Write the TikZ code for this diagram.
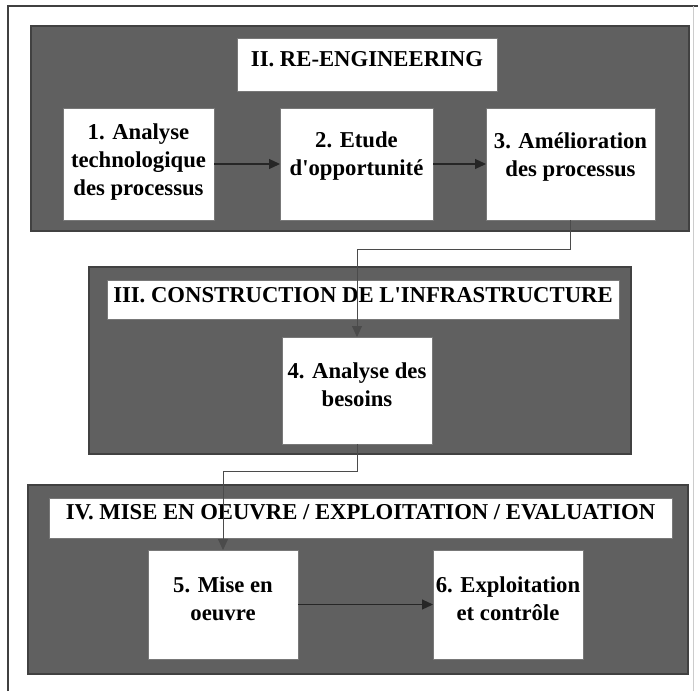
\documentclass[tikz,border=0pt]{standalone}
\usepackage{fontspec}
\setmainfont{Liberation Serif}
\usetikzlibrary{arrows.meta}
\definecolor{panelgray}{RGB}{96,96,96}
\definecolor{paneledge}{RGB}{65,65,65}
\definecolor{boxedge}{RGB}{120,120,120}
\definecolor{lineclr}{RGB}{75,75,75}
\begin{document}
\begin{tikzpicture}[x=1pt,y=-1pt,
  every node/.style={font=\fontsize{22.7}{28}\selectfont\bfseries},
  panel/.style={draw=paneledge, line width=1.2pt, fill=panelgray, inner sep=0pt, outer sep=0pt},
  stepbox/.style={draw=boxedge, line width=0.6pt, fill=white, inner sep=0pt, outer sep=0pt},
  titlebox/.style={draw=boxedge, line width=0.6pt, fill=white, inner sep=0pt, outer sep=0pt, text=black},
  steptext/.style={align=center, inner sep=0pt, text=black},
  conn/.style={draw=lineclr, line width=0.8pt, -{Triangle[length=11pt,width=10pt]}},
  flow/.style={draw=black!85, line width=1.1pt, -{Triangle[length=11pt,width=10pt]}}
]
\useasboundingbox (0,0) rectangle (698,691);
\fill[white] (0,0) rectangle (698,691);
% outer frame
\draw[black!75, line width=1.1pt] (8,691) -- (8,6) -- (698,6);
\draw[black!20, line width=0.6pt] (693,6) -- (693,691);

% panels
\node[panel, minimum width=658, minimum height=205] (p2) at (360,128.5) {};
\node[panel, minimum width=542, minimum height=187] (p3) at (360,360.5) {};
\node[panel, minimum width=660, minimum height=189] (p4) at (358,579.5) {};

% titles
\node[titlebox, minimum width=260, text height=28, text depth=25] (t2) at (367,65) {II. RE-ENGINEERING};
\node[titlebox, minimum width=512, text height=22, text depth=17] (t3) at (363,300) {III. CONSTRUCTION DE L\textquotesingle INFRASTRUCTURE};
\node[titlebox, minimum width=623, text height=21, text depth=19] (t4) at (360.5,518) {IV. MISE EN OEUVRE / EXPLOITATION / EVALUATION};

% step boxes
\node[stepbox, minimum width=151, minimum height=112] (b1) at (138.5,164) {};
\node[stepbox, minimum width=153, minimum height=112] (b2) at (356.5,164) {};
\node[stepbox, minimum width=169, minimum height=112] (b3) at (570.5,164) {};
\node[stepbox, minimum width=150, minimum height=107] (b4) at (357,390.5) {};
\node[stepbox, minimum width=150, minimum height=109] (b5) at (223,604.5) {};
\node[stepbox, minimum width=150, minimum height=109] (b6) at (508,604.5) {};

% step texts
\node[steptext] (l1) at (138.5,161.6) {1. Analyse\\technologique\\des processus};
\node[steptext] (l2) at (356.5,156) {2. Etude\\d\textquotesingle opportunité};
\node[steptext] (l3) at (570.5,157) {3. Amélioration\\des processus};
\node[steptext] (l4) at (357,384.5) {4. Analyse des\\besoins};
\node[steptext] (l5) at (223,598.4) {5. Mise en\\oeuvre};
\node[steptext] (l6) at (508,598.4) {6. Exploitation\\et contrôle};

% connectors
\draw[flow] (b1.east) -- (b2.west);
\draw[flow] (b2.east) -- (b3.west);
\draw[flow] (b5.east) -- (b6.west);
\draw[conn] (b3.south) -- ++(0,29) -| (b4.north);
\draw[conn] (b4.south) -- ++(0,27) -| (b5.north);
\end{tikzpicture}
\end{document}
